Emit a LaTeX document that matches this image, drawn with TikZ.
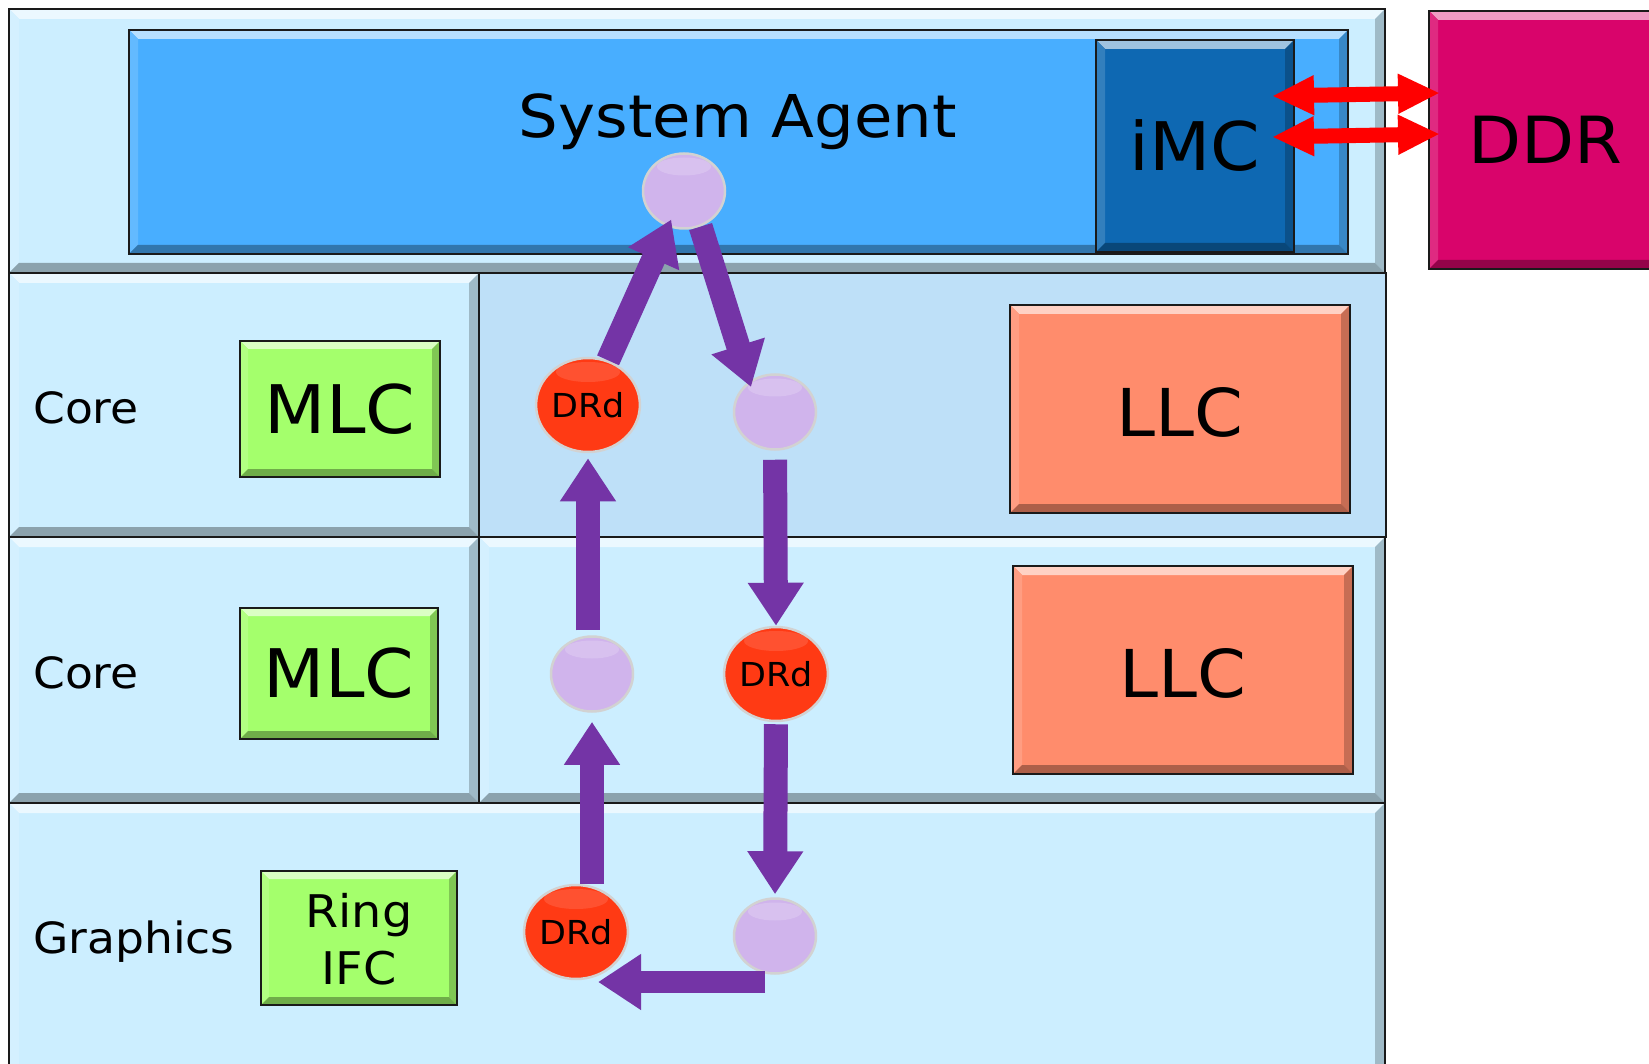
\documentclass[tikz,border=0pt]{standalone}
\usepackage{fontspec}
\setmainfont{DejaVu Sans}[FakeStretch=1.06]
\usetikzlibrary{arrows.meta,calc,shapes.geometric}
\definecolor{panel}{HTML}{CCEEFF}
\definecolor{panelB}{HTML}{BEE0F8}
\definecolor{sablue}{HTML}{48AEFF}
\definecolor{imcblue}{HTML}{0E68B2}
\definecolor{ddrpink}{HTML}{D9046B}
\definecolor{mlcgreen}{HTML}{A4FF6C}
\definecolor{llcsalmon}{HTML}{FF8C6C}
\definecolor{drdred}{HTML}{FF3A14}
\definecolor{lav}{HTML}{D0B4EC}
\definecolor{ringpurple}{HTML}{7434A6}
\definecolor{edge}{HTML}{1A1A1A}
\tikzset{
  bev/.style 2 args={fill=#1, path picture={
    \path (path picture bounding box.north west) coordinate (bNW)
          (path picture bounding box.north east) coordinate (bNE)
          (path picture bounding box.south west) coordinate (bSW)
          (path picture bounding box.south east) coordinate (bSE);
    \fill[#1!40!white] (bNW) -- (bNE) -- ([shift={(-#2,#2)}]bNE) -- ([shift={(#2,#2)}]bNW) -- cycle;
    \fill[#1!85!white] (bNW) -- ([shift={(#2,#2)}]bNW) -- ([shift={(#2,-#2)}]bSW) -- (bSW) -- cycle;
    \fill[#1!78!black] (bNE) -- (bSE) -- ([shift={(-#2,-#2)}]bSE) -- ([shift={(-#2,#2)}]bNE) -- cycle;
    \fill[#1!68!black] (bSW) -- (bSE) -- ([shift={(-#2,-#2)}]bSE) -- ([shift={(#2,-#2)}]bSW) -- cycle;
  }},
  box/.style 2 args={bev={#1}{#2}, draw=edge, line width=2pt, inner sep=0pt, anchor=north west},
  lbl/.style={font=\fontsize{43}{50}\selectfont, inner sep=0pt, anchor=base west},
  big/.style={font=\fontsize{67}{78}\selectfont},
  lavnode/.style={ellipse, minimum width=82pt, minimum height=75pt, inner sep=0pt,
    fill=lav, draw=gray!35, line width=2.5pt,
    path picture={\fill[white,opacity=.18] ([yshift=-13pt]path picture bounding box.north) ellipse [x radius=27pt, y radius=9pt];}},
  drdnode/.style={ellipse, minimum width=100pt, minimum height=94pt, inner sep=0pt,
    fill=drdred, draw=gray!35, line width=2.5pt, font=\fontsize{33}{40}\selectfont,
    path picture={\fill[white,opacity=.12] ([yshift=-14pt]path picture bounding box.north) ellipse [x radius=32pt, y radius=10pt];}},
  parrow/.style={draw=ringpurple, line width=24pt, -{Triangle[width=53pt,length=43pt]}},
  rarrow/.style={draw=red, line width=15pt, {Triangle[width=37pt,length=42pt]}-{Triangle[width=37pt,length=42pt]}},
}
\begin{document}
\begin{tikzpicture}[x=1pt,y=-1pt]
\useasboundingbox (0,0) rectangle (1649,1064);
\fill[white] (0,0) rectangle (1649,1064);
\clip (0,0) rectangle (1649,1064);
% panels
\path[bev={panel}{10}, draw=edge, line width=2.5pt] (9,9) rectangle (1385,273);
\path[bev={panel}{10}, draw=edge, line width=2.5pt] (9,273) rectangle (479,537);
\path[fill=panelB, draw=edge, line width=2.5pt] (479,273) rectangle (1386,537);
\path[bev={panel}{10}, draw=edge, line width=2.5pt] (9,537) rectangle (479,803);
\path[bev={panel}{10}, draw=edge, line width=2.5pt] (479,537) rectangle (1385,803);
\path[bev={panel}{10}, draw=edge, line width=2.5pt] (9,803) rectangle (1385,1080);
% system agent
\node[box={sablue}{9}, minimum width=1219pt, minimum height=224pt] (sabox) at (128,29) {};
\node[box={imcblue}{9}, minimum width=198pt, minimum height=212pt] (imc) at (1095,39) {};
\node[big] (imctext) at (imc.center) {iMC};
\node[anchor=base, font=\fontsize{59}{70}\selectfont, inner sep=0pt] (satext) at (738,138) {System Agent};
\node[box={ddrpink}{9}, minimum width=236pt, minimum height=258pt] (ddr) at (1428,10) {};
\node[font=\fontsize{65}{76}\selectfont, inner sep=0pt, anchor=base] (ddrtext) at (1545,164) {DDR};
% cores
\node[lbl] (core1) at (33,423) {Core};
\node[lbl] (core2) at (33,688) {Core};
\node[lbl] (gfx) at (33,953) {Graphics};
\node[box={mlcgreen}{8}, minimum width=200pt, minimum height=136pt] (mlc1) at (239,340) {};
\node[big] (mlc1t) at (mlc1.center) {MLC};
\node[box={mlcgreen}{8}, minimum width=198pt, minimum height=131pt] (mlc2) at (239,607) {};
\node[big] (mlc2t) at (mlc2.center) {MLC};
\node[box={mlcgreen}{8}, minimum width=196pt, minimum height=134pt] (ring) at (260,870) {};
\node[align=center, font=\fontsize{45}{57}\selectfont, inner sep=0pt] (ringt) at ([yshift=-1pt]ring.center) {Ring\\IFC};
\node[box={llcsalmon}{9}, minimum width=340pt, minimum height=208pt] (llc1) at (1009,304) {};
\node[font=\fontsize{66}{76}\selectfont] (llc1t) at ([yshift=-3pt]llc1.center) {LLC};
\node[box={llcsalmon}{9}, minimum width=340pt, minimum height=208pt] (llc2) at (1012,565) {};
\node[font=\fontsize{66}{76}\selectfont] (llc2t) at ([yshift=-3pt]llc2.center) {LLC};
% ring stops
\node[lavnode] (sa) at (684,191) {};
\node[drdnode] (drd1) at (588,405) {DRd};
\node[lavnode] (lav1) at (775,412) {};
\node[lavnode] (lav2) at (592,674) {};
\node[drdnode] (drd2) at (776,674) {DRd};
\node[drdnode] (drd3) at (576,932) {DRd};
\node[lavnode] (lav3) at (775,936) {};
% ring arrows
\draw[parrow, shorten >=-8pt] (drd1) -- (sa);
\draw[parrow, shorten >=-6pt] (sa.-65) -- (lav1.130);
\draw[parrow, shorten <=9pt] (lav1.south) -- (drd2.north);
\draw[parrow, shorten <=2pt, shorten >=3pt] (drd2.south) -- (lav3.north);
\draw[parrow, line width=22pt] ([shift={(-10,46)}]lav3.center) -- ([shift={(22,50)}]drd3.center);
\draw[parrow, shorten >=9pt] (drd3.north -| lav2) -- (lav2.south);
\draw[parrow, shorten <=5pt, shorten >=5pt] (lav2.north -| drd1) -- (drd1.south);
% memory links
\draw[rarrow] ([shift={(-23,-50)}]imc.east) -- ([shift={(12,-47)}]ddr.west);
\draw[rarrow] ([shift={(-23,-9)}]imc.east) -- ([shift={(12,-6)}]ddr.west);
\end{tikzpicture}
\end{document}
